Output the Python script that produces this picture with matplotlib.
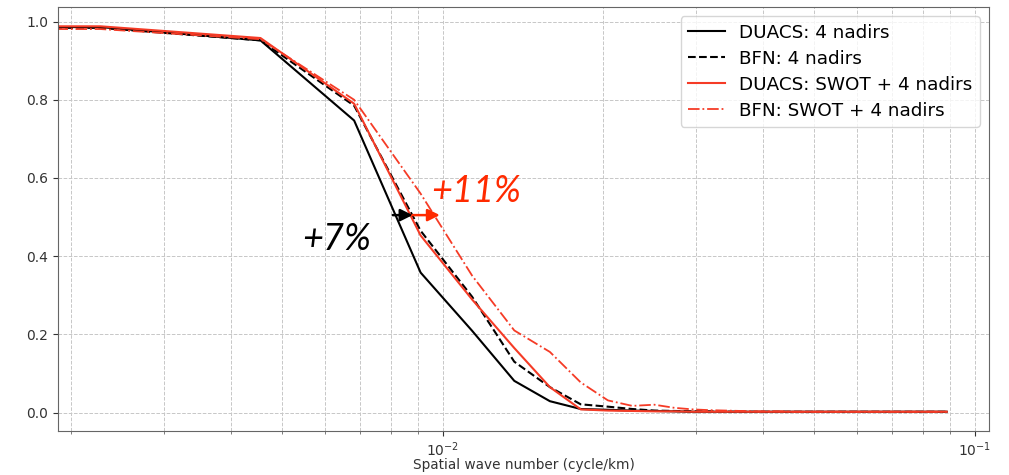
import numpy as np
import matplotlib
matplotlib.use("Agg")
import matplotlib.pyplot as plt

# Wavenumber grid of the 440 km box (mode n -> n / 440 cycle/km)
mode_number = np.arange(40)
box_length_km = 440.0
wavenumber = mode_number / box_length_km

# Meridional coherence per mapping/observing configuration
duacs_nadirs = [0.985, 0.986, 0.952, 0.747, 0.358, 0.209, 0.081, 0.029, 0.009, 0.007,
                0.005, 0.004, 0.003, 0.002, 0.002, 0.002, 0.002, 0.002, 0.002, 0.002,
                0.002, 0.002, 0.002, 0.002, 0.002, 0.002, 0.002, 0.002, 0.002, 0.002,
                0.002, 0.002, 0.002, 0.002, 0.002, 0.002, 0.002, 0.002, 0.002, 0.002]
bfn_nadirs = [0.983, 0.984, 0.952, 0.785, 0.465, 0.296, 0.130, 0.065, 0.021, 0.015,
              0.009, 0.005, 0.004, 0.003, 0.003, 0.002, 0.002, 0.002, 0.002, 0.002,
              0.002, 0.002, 0.002, 0.002, 0.002, 0.002, 0.002, 0.002, 0.002, 0.002,
              0.002, 0.002, 0.002, 0.002, 0.002, 0.002, 0.002, 0.002, 0.002, 0.002]
duacs_swot = [0.987, 0.988, 0.958, 0.790, 0.453, 0.289, 0.165, 0.065, 0.008, 0.005,
              0.004, 0.003, 0.003, 0.002, 0.002, 0.002, 0.002, 0.002, 0.002, 0.002,
              0.002, 0.002, 0.002, 0.002, 0.002, 0.002, 0.002, 0.002, 0.002, 0.002,
              0.002, 0.002, 0.002, 0.002, 0.002, 0.002, 0.002, 0.002, 0.002, 0.002]
bfn_swot = [0.980, 0.981, 0.955, 0.800, 0.560, 0.350, 0.210, 0.155, 0.077, 0.031,
            0.017, 0.020, 0.012, 0.008, 0.006, 0.005, 0.004, 0.003, 0.003, 0.003,
            0.002, 0.002, 0.002, 0.002, 0.002, 0.002, 0.002, 0.002, 0.002, 0.002,
            0.002, 0.002, 0.002, 0.002, 0.002, 0.002, 0.002, 0.002, 0.002, 0.002]

# Shift of the 0.5 coherence crossing (start, black tip, red tip)
shift_k = [8.06e-3, 8.78e-3, 9.88e-3]
shift_level = 0.505
gain_labels = ["+7%", "+11%"]
label_k = [5.45e-3, 9.52e-3]
label_level = [0.415, 0.538]

RED = "#f53b26"
RED_TEXT = "#ff2a00"


def main():
    fig = plt.figure(figsize=(10.09, 4.75), dpi=100)
    ax = fig.add_axes([0.0575, 0.0926, 0.9227, 0.8926])

    ax.plot(wavenumber, duacs_nadirs, color="k", lw=1.5, label="DUACS: 4 nadirs")
    ax.plot(wavenumber, bfn_nadirs, color="k", lw=1.5, ls="--", label="BFN: 4 nadirs")
    ax.plot(wavenumber, duacs_swot, color=RED, lw=1.5, label="DUACS: SWOT + 4 nadirs")
    ax.plot(wavenumber, bfn_swot, color=RED, lw=1.3, ls="-.", label="BFN: SWOT + 4 nadirs")
    ax.set_xscale("log")

    ax.grid(True, which="both", ls="--", color="0.78", lw=0.7)
    ax.set_xlabel("Spatial wave number (cycle/km)", fontsize=9.8, color="0.2", labelpad=-0.8)
    ax.set_title("Meridional coherence", fontsize=13.4, pad=5)
    ax.tick_params(colors="0.2", labelsize=10)
    ax.tick_params(which="minor", colors="0.4")
    for sp in ax.spines.values():
        sp.set_color("0.4")

    ax.legend(loc="upper right", fontsize=13.2, labelspacing=0.44)

    # arrows marking the gain at coherence 0.5
    arrow_style = dict(arrowstyle="-|>", lw=1.8, mutation_scale=18, shrinkA=0, shrinkB=0)
    ax.annotate("", xy=(shift_k[1], shift_level), xytext=(shift_k[0], shift_level),
                arrowprops=dict(color="k", **arrow_style))
    ax.annotate("", xy=(shift_k[2], shift_level), xytext=(shift_k[1], shift_level),
                arrowprops=dict(color=RED_TEXT, **arrow_style))
    for txt, kx, lv, col in zip(gain_labels, label_k, label_level, ["k", RED_TEXT]):
        ax.text(kx, lv, txt, color=col, fontsize=26, style="italic",
                family=["Lato", "DejaVu Sans"], ha="left", va="baseline")

    fig.savefig("out.png", dpi=100)
    plt.close(fig)


if __name__ == "__main__":
    main()
